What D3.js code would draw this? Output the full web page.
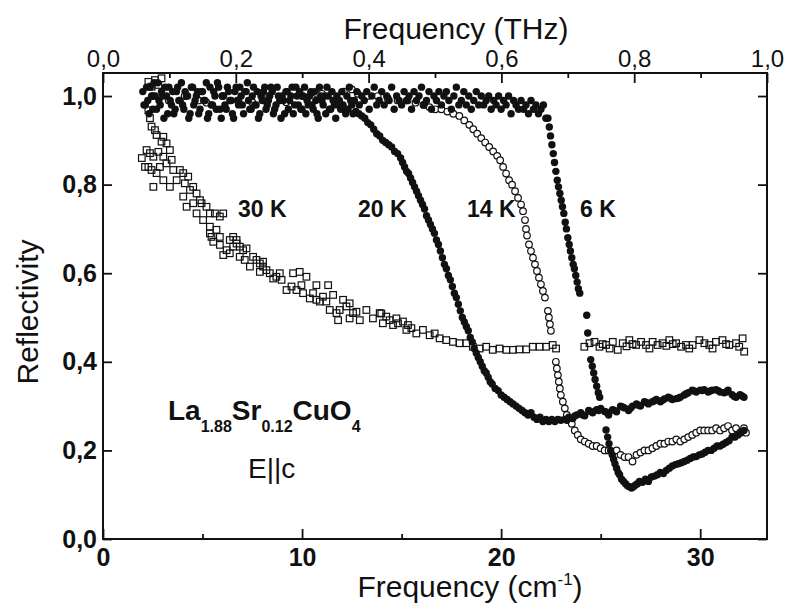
<!DOCTYPE html>
<html><head><meta charset="utf-8">
<script src="https://cdn.jsdelivr.net/npm/d3@7"></script>
<style>
body{margin:0;background:#fff}
svg{display:block}
text{font-family:"Liberation Sans",Arial,Helvetica,sans-serif;fill:#111}
</style>
</head><body><svg id="c" width="786" height="609"></svg>
<script>
// ---- axis ticks ----
const cmMajor = [0, 10, 20, 30];
const cmMinor = [5, 15, 25];
const thzMajor = [0, 0.2, 0.4, 0.6, 0.8, 1.0];
const thzMinor = [0.1, 0.3, 0.5, 0.7, 0.9];
const rMajor = [0, 0.2, 0.4, 0.6, 0.8, 1.0];
const cmPerTHz = 33.356;

// ---- curve labels ----
const tempLabels = ["30 K", "20 K", "14 K", "6 K"];

// ---- data: [frequency (cm^-1), reflectivity] ----
const sq30K = [
[1.95,0.86],[2.11,0.84],[2.19,0.878],[2.28,0.968],[2.28,0.84],[2.28,1.032],[2.36,0.95],[2.36,0.871],[2.44,0.931],[2.44,0.833],[2.44,1.021],[2.53,0.863],[2.53,0.795],[2.61,0.923],[2.61,1.036],[2.69,0.912],[2.69,0.826],[2.78,0.874],[2.78,1.025],[2.86,0.84],[2.94,0.897],[2.94,1.04],[3.03,0.908],[3.03,0.863],[3.03,0.81],[3.19,0.893],[3.19,0.848],[3.36,0.878],[3.36,0.795],[3.45,0.856],[3.53,0.833],[3.7,0.81],[3.86,0.833],[4.03,0.826],[4.03,0.773],[4.11,0.803],[4.2,0.75],[4.28,0.818],[4.37,0.788],[4.53,0.795],[4.53,0.758],[4.7,0.78],[4.7,0.735],[4.87,0.765],[4.95,0.758],[5.03,0.72],[5.2,0.75],[5.37,0.735],[5.37,0.705],[5.37,0.69],[5.45,0.682],[5.54,0.671],[5.62,0.735],[5.7,0.698],[5.87,0.728],[5.87,0.682],[5.87,0.664],[6.04,0.735],[6.04,0.641],[6.21,0.652],[6.37,0.675],[6.37,0.645],[6.54,0.66],[6.54,0.682],[6.71,0.675],[6.71,0.667],[6.87,0.66],[6.87,0.637],[7.04,0.652],[7.12,0.63],[7.21,0.656],[7.38,0.615],[7.54,0.637],[7.71,0.63],[7.88,0.622],[7.88,0.603],[8.04,0.615],[8.04,0.626],[8.21,0.607],[8.38,0.6],[8.55,0.588],[8.71,0.592],[8.88,0.6],[8.97,0.585],[9.22,0.562],[9.47,0.57],[9.55,0.6],[9.72,0.562],[9.88,0.603],[9.97,0.573],[10.05,0.555],[10.22,0.592],[10.39,0.543],[10.55,0.555],[10.72,0.573],[10.72,0.54],[10.89,0.536],[11.05,0.547],[11.22,0.536],[11.31,0.573],[11.39,0.517],[11.56,0.551],[11.73,0.51],[11.81,0.494],[11.89,0.517],[12.06,0.54],[12.23,0.525],[12.39,0.532],[12.39,0.498],[12.56,0.51],[12.73,0.513],[12.9,0.494],[13.23,0.517],[13.56,0.498],[13.9,0.51],[13.98,0.509],[14.06,0.487],[14.23,0.502],[14.4,0.494],[14.57,0.483],[14.74,0.498],[14.82,0.487],[15.07,0.491],[15.24,0.472],[15.32,0.483],[15.49,0.476],[15.74,0.464],[16.07,0.472],[16.41,0.46],[16.66,0.464],[16.91,0.453],[17.24,0.449],[17.58,0.445],[17.91,0.442],[18.25,0.442],[18.58,0.434],[18.92,0.43],[19.25,0.434],[19.58,0.427],[19.92,0.43],[20.26,0.427],[20.59,0.427],[20.92,0.428],[21.26,0.428],[21.59,0.434],[21.93,0.434],[22.26,0.434],[22.59,0.438],[22.76,0.43],
[24.18,0.434],[24.44,0.442],[24.69,0.445],[24.94,0.434],[25.1,0.44],[25.27,0.438],[25.45,0.43],[25.61,0.445],[25.86,0.427],[26.11,0.442],[26.3,0.435],[26.44,0.449],[26.6,0.44],[26.78,0.438],[27.03,0.445],[27.28,0.438],[27.45,0.43],[27.61,0.445],[27.86,0.438],[28.11,0.442],[28.3,0.436],[28.45,0.449],[28.62,0.44],[28.79,0.442],[29.04,0.434],[29.29,0.438],[29.45,0.43],[29.62,0.438],[29.96,0.449],[30.21,0.442],[30.46,0.438],[30.62,0.43],[30.79,0.445],[31.12,0.449],[31.3,0.44],[31.46,0.438],[31.8,0.442],[31.96,0.434],[32.13,0.453],[32.21,0.423]
];

const oc14K = [
[2.5,1.0],[3.3,0.99],[4.1,1.0],[4.8,0.99],[5.2,0.985],[6.0,1.0],[6.8,0.99],[7.5,0.986],[8.3,1.0],[9.2,0.986],[10.0,1.0],[10.7,1.007],[11.0,1.005],[11.6,1.0],[12.1,1.01],[12.5,1.015],[12.8,1.005],[13.3,1.0],[13.8,1.0],[14.3,0.995],[14.8,0.99],[15.3,0.99],[15.7,0.985],
[16.1,0.98],[16.4,0.975],[16.7,0.97],[17.0,0.97],[17.3,0.965],[17.6,0.96],[17.9,0.955],[18.15,0.945],[18.4,0.935],[18.6,0.925],[18.8,0.915],[19.0,0.905],[19.2,0.895],[19.4,0.885],[19.6,0.875],[19.8,0.865],[19.95,0.855],[20.1,0.84],[20.25,0.825],[20.4,0.81],[20.55,0.8],[20.7,0.785],[20.85,0.77],[21.0,0.755],[21.1,0.74],[21.2,0.72],[21.25,0.7],[21.3,0.685],[21.4,0.665],[21.5,0.65],[21.6,0.635],[21.7,0.62],[21.8,0.605],[21.9,0.59],[22.0,0.575],[22.1,0.56],[22.2,0.545],
[22.35,0.515],[22.4,0.5],[22.45,0.485],[22.5,0.47],
[22.75,0.4],[22.8,0.385],[22.85,0.37],[22.9,0.355],[22.95,0.34],[23.0,0.325],[23.1,0.31],[23.2,0.295],[23.3,0.28],[23.4,0.27],[23.55,0.26],[23.7,0.245],[23.85,0.235],[24.0,0.225],[24.2,0.22],[24.4,0.215],[24.6,0.21],[24.8,0.21],[25.0,0.205],[25.2,0.2],[25.4,0.2],[25.6,0.195],[25.8,0.2],[26.0,0.19],[26.2,0.185],[26.4,0.185],[26.6,0.175],[26.8,0.19],[27.0,0.195],[27.2,0.2],[27.4,0.2],[27.6,0.205],[27.8,0.21],[28.0,0.215],[28.2,0.215],[28.4,0.22],[28.6,0.22],[28.8,0.225],[29.0,0.22],[29.2,0.225],[29.4,0.23],[29.6,0.235],[29.8,0.24],[30.0,0.245],[30.2,0.245],[30.4,0.245],[30.6,0.245],[30.8,0.25],[31.0,0.245],[31.2,0.25],[31.4,0.255],[31.6,0.245],[31.8,0.25],[32.0,0.24],[32.2,0.25],[32.3,0.24]
];

const fc20K = [
[2.06,0.98],[2.19,1.02],[2.31,0.96],[2.44,1.0],[2.56,1.03],[2.69,0.97],[2.81,0.99],[2.94,1.01],
[3.06,0.95],[3.19,1.0],[3.31,1.02],[3.44,0.98],[3.56,0.96],[3.69,1.01],[3.81,0.99],[3.94,1.03],
[4.06,0.97],[4.19,1.0],[4.31,0.95],[4.44,1.02],[4.56,0.98],[4.69,1.0],[4.81,0.96],[4.94,1.01],
[5.06,0.99],[5.19,1.03],[5.31,0.96],[5.44,0.98],[5.56,1.01],[5.69,0.97],[5.81,1.02],[5.94,0.95],
[6.06,1.0],[6.19,0.97],[6.31,1.01],[6.44,0.99],[6.56,0.95],[6.69,1.02],[6.81,0.98],[6.94,1.0],
[7.06,0.96],[7.19,1.01],[7.31,0.99],[7.44,0.97],[7.56,1.02],[7.69,0.98],[7.81,0.95],[7.94,1.0],
[8.06,1.01],[8.19,0.97],[8.31,0.99],[8.44,1.02],[8.56,0.96],[8.69,0.98],[8.81,1.0],[8.94,0.95],
[9.06,0.99],[9.19,1.01],[9.31,0.97],[9.44,1.0],[9.56,0.96],[9.69,1.02],[9.81,0.98],[9.94,0.97],
[10.06,1.0],[10.19,0.96],[10.31,0.98],[10.44,1.01],[10.56,0.97],[10.69,0.99],[10.81,0.95],[10.94,1.0],
[11.06,0.98],[11.19,0.96],[11.31,1.0],[11.44,0.97],[11.56,0.99],[11.69,0.95],[11.81,0.98],[11.94,0.97],
[12.06,0.98],[12.19,0.96],[12.31,0.97],[12.44,0.99],[12.56,0.96],
[12.7,0.965],[12.85,0.96],[13.0,0.955],[13.15,0.95],[13.3,0.94],[13.45,0.935],[13.6,0.925],[13.75,0.915],[13.9,0.91],[14.05,0.9],[14.2,0.895],[14.35,0.89],[14.5,0.885],[14.65,0.875],[14.8,0.87],[14.95,0.86],[15.05,0.85],[15.15,0.84],[15.25,0.83],[15.35,0.825],[15.45,0.815],[15.55,0.805],[15.65,0.795],[15.75,0.785],[15.85,0.775],[15.95,0.765],[16.05,0.755],[16.15,0.745],[16.25,0.73],[16.35,0.72],[16.45,0.71],[16.55,0.7],[16.65,0.69],[16.75,0.675],[16.85,0.665],[16.95,0.65],[17.05,0.635],[17.15,0.62],[17.25,0.61],[17.35,0.595],[17.45,0.585],[17.55,0.57],[17.65,0.555],[17.75,0.545],[17.85,0.53],[17.95,0.515],[18.05,0.5],[18.15,0.49],[18.25,0.48],[18.35,0.47],[18.45,0.455],[18.55,0.445],[18.65,0.43],[18.75,0.42],[18.85,0.41],[18.95,0.4],[19.05,0.39],[19.15,0.38],[19.25,0.375],[19.35,0.365],[19.45,0.355],[19.55,0.35],[19.7,0.34],[19.85,0.335],[20.0,0.325],[20.15,0.32],[20.3,0.315],[20.45,0.31],[20.6,0.305],[20.75,0.3],[20.9,0.295],[21.05,0.29],[21.2,0.285],[21.35,0.28],[21.5,0.285],[21.65,0.275],[21.8,0.27],[21.95,0.275],[22.1,0.265],[22.25,0.27],[22.4,0.265],[22.55,0.27],[22.7,0.265],[22.85,0.27],[23.0,0.268],
[23.2,0.27],[23.3,0.268],[23.4,0.275],[23.6,0.272],[23.7,0.278],[23.8,0.28],[24.0,0.285],[24.1,0.28],[24.2,0.278],[24.4,0.29],[24.5,0.288],[24.6,0.285],[24.8,0.292],[24.9,0.29],[25.0,0.295],[25.2,0.288],[25.3,0.286],[25.4,0.28],[25.6,0.292],[25.7,0.29],[25.8,0.287],[26.0,0.3],[26.1,0.298],[26.2,0.296],[26.4,0.29],[26.5,0.295],[26.6,0.3],[26.8,0.305],[26.9,0.302],[27.0,0.3],[27.2,0.31],[27.3,0.308],[27.4,0.305],[27.6,0.31],[27.7,0.312],[27.8,0.315],[28.0,0.31],[28.1,0.313],[28.2,0.316],[28.4,0.32],[28.5,0.318],[28.6,0.315],[28.8,0.317],[28.9,0.318],[29.0,0.32],[29.2,0.325],[29.3,0.328],[29.4,0.33],[29.6,0.336],[29.7,0.334],[29.8,0.332],[30.0,0.336],[30.1,0.335],[30.2,0.337],[30.4,0.332],[30.5,0.334],[30.6,0.336],[30.8,0.337],[30.9,0.335],[31.0,0.332],[31.2,0.33],[31.3,0.332],[31.4,0.336],[31.6,0.326],[31.7,0.322],[31.8,0.32],[32.0,0.326],[32.1,0.323],[32.2,0.32]
];

const fc6K = [
[2.0,1.01],[2.125,0.98],[2.25,0.99],[2.375,1.02],[2.5,0.97],[2.625,1.0],[2.75,1.03],[2.875,0.98],
[3.0,1.0],[3.125,1.02],[3.25,0.96],[3.375,0.99],[3.5,1.01],[3.625,0.97],[3.75,1.02],[3.875,0.99],
[4.0,0.98],[4.125,1.01],[4.25,1.0],[4.375,0.96],[4.5,1.02],[4.625,0.99],[4.75,1.01],[4.875,0.97],
[5.0,1.01],[5.125,0.99],[5.25,0.95],[5.375,1.02],[5.5,0.98],[5.625,1.0],[5.75,1.03],[5.875,0.97],
[6.0,1.0],[6.125,0.98],[6.25,1.02],[6.375,0.99],[6.5,0.96],[6.625,1.01],[6.75,0.99],[6.875,1.02],
[7.0,0.98],[7.125,1.01],[7.25,1.03],[7.375,0.97],[7.5,1.0],[7.625,0.98],[7.75,1.01],[7.875,0.96],
[8.0,0.99],[8.125,1.02],[8.25,0.98],[8.375,1.0],[8.5,1.01],[8.625,0.97],[8.75,1.02],[8.875,0.99],
[9.0,1.0],[9.125,0.96],[9.25,1.01],[9.375,0.99],[9.5,1.02],[9.625,0.98],[9.75,1.0],[9.875,1.01],
[10.0,0.97],[10.125,1.02],[10.25,0.99],[10.375,1.0],[10.5,0.98],[10.625,1.01],[10.75,0.96],[10.875,1.02],
[11.0,0.99],[11.125,1.0],[11.25,1.02],[11.375,0.97],[11.5,1.01],[11.625,0.98],[11.75,1.0],[11.875,0.99],
[12.0,1.01],[12.125,0.97],[12.25,1.0],[12.375,1.02],[12.5,0.98],[12.625,0.99],[12.75,1.01],[12.875,0.98],
[13.0,1.0],[13.125,0.99],[13.25,1.01],[13.375,0.97],[13.5,1.0],[13.625,1.02],[13.75,0.98],[13.875,0.99],
[14.0,1.01],[14.125,0.98],[14.25,1.0],[14.375,0.99],[14.5,1.02],[14.625,0.97],[14.75,1.0],[14.875,0.99],
[15.0,0.98],[15.125,1.01],[15.25,0.99],[15.375,1.0],[15.5,0.97],[15.625,1.01],[15.75,0.99],[15.875,1.0],
[16.0,1.02],[16.125,0.98],[16.25,0.99],[16.375,1.01],[16.5,0.97],[16.625,1.0],[16.75,0.99],[16.875,1.01],
[17.0,0.98],[17.125,1.0],[17.25,1.01],[17.375,0.99],[17.5,0.97],[17.625,1.0],[17.75,1.02],[17.875,0.98],
[18.0,0.99],[18.125,1.01],[18.25,0.98],[18.375,1.0],[18.5,0.97],[18.625,0.99],[18.75,1.01],[18.875,0.98],
[19.0,1.0],[19.125,0.98],[19.25,0.99],[19.375,1.0],[19.5,0.97],[19.625,0.99],[19.75,0.98],[19.875,1.0],
[20.0,0.97],[20.125,0.99],[20.25,0.98],[20.375,1.0],[20.5,0.96],[20.625,0.99],[20.75,0.98],[20.875,0.97],
[21.0,0.99],[21.125,0.97],[21.25,0.98],[21.375,0.96],[21.5,0.99],[21.625,0.97],[21.75,0.98],[21.875,0.96],
[22.0,0.97],[22.125,0.98],[22.25,0.95],
[22.35,0.95],[22.42,0.93],[22.48,0.91],[22.55,0.89],[22.62,0.87],[22.68,0.85],[22.75,0.83],[22.82,0.81],[22.88,0.795],[22.95,0.78],[23.02,0.765],[23.08,0.75],[23.15,0.735],[23.22,0.715],[23.28,0.7],[23.35,0.68],[23.42,0.665],[23.48,0.65],[23.55,0.635],[23.62,0.62],[23.68,0.61],[23.75,0.595],[23.82,0.58],[23.88,0.565],[23.95,0.555],
[24.3,0.505],[24.35,0.465],[24.5,0.405],[24.58,0.39],[24.65,0.375],[24.72,0.36],[24.8,0.345],[24.88,0.33],[24.95,0.32],
[25.27,0.246],[25.35,0.23],[25.42,0.215],[25.5,0.2],[25.58,0.19],[25.65,0.18],[25.72,0.17],[25.8,0.16],[25.88,0.15],[25.95,0.145],[26.05,0.135],[26.15,0.13],[26.25,0.125],[26.35,0.12],[26.45,0.118],[26.55,0.115],[26.65,0.118],[26.75,0.122],[26.85,0.125],[26.95,0.13],[27.1,0.128],[27.25,0.135],[27.4,0.13],[27.55,0.14],[27.7,0.142],[27.85,0.145],[28.0,0.15],[28.15,0.148],[28.3,0.155],[28.45,0.16],[28.6,0.165],[28.75,0.168],[28.9,0.17],[29.05,0.172],[29.2,0.175],[29.35,0.178],[29.5,0.182],[29.65,0.185],[29.8,0.186],[29.95,0.19],[30.1,0.192],[30.25,0.196],[30.4,0.2],[30.55,0.2],[30.7,0.205],[30.85,0.21],[31.0,0.21],[31.15,0.214],[31.3,0.218],[31.45,0.222],[31.6,0.23],[31.75,0.23],[31.9,0.235],[32.05,0.24],[32.2,0.245]
];

// ---- drawing ----
const svg = d3.select("#c");
const L = 103, R = 767, T = 73, B = 539;
const x = d3.scaleLinear().domain([0, cmPerTHz]).range([L, R]);
const xt = d3.scaleLinear().domain([0, 1]).range([L, R]);
const y = d3.scaleLinear().domain([0, 1.052]).range([B, T]);
const comma = d => d3.format(".1f")(d).replace(".", ",");

function styleAxis(g, size, weight) {
  g.attr("font-size", null).attr("font-family", null);
  g.select(".domain").remove();
  g.selectAll(".tick line").attr("stroke", "#111").attr("stroke-width", 1.8);
  g.selectAll(".tick text").style("font-size", size + "px").style("font-weight", weight).attr("fill", "#111");
}

// bottom
styleAxis(svg.append("g").attr("transform", `translate(0,${B})`)
  .call(d3.axisBottom(x).tickValues(cmMajor).tickSize(-10).tickPadding(9).tickFormat(d3.format("d"))), 25, "bold");
styleAxis(svg.append("g").attr("transform", `translate(0,${B})`)
  .call(d3.axisBottom(x).tickValues(cmMinor).tickSize(-5).tickFormat("")), 25, "bold");
// top
styleAxis(svg.append("g").attr("transform", `translate(0,${T})`)
  .call(d3.axisTop(xt).tickValues(thzMajor).tickSize(-10).tickPadding(6).tickFormat(comma)), 24, "normal");
styleAxis(svg.append("g").attr("transform", `translate(0,${T})`)
  .call(d3.axisTop(xt).tickValues(thzMinor).tickSize(-5).tickFormat("")), 24, "normal");
// left
styleAxis(svg.append("g").attr("transform", `translate(${L},0)`)
  .call(d3.axisLeft(y).tickValues(rMajor).tickSize(-9).tickPadding(6).tickFormat(comma)), 25, "bold");
// right
styleAxis(svg.append("g").attr("transform", `translate(${R},0)`)
  .call(d3.axisRight(y).tickValues(rMajor).tickSize(-9).tickFormat("")), 25, "bold");

// frame
svg.append("rect").attr("x", L).attr("y", T).attr("width", R - L).attr("height", B - T)
  .attr("fill", "none").attr("stroke", "#111").attr("stroke-width", 2);

// data marks
const s = 6.6;
svg.append("g").selectAll("rect").data(sq30K).join("rect")
  .attr("x", d => x(d[0]) - s / 2).attr("y", d => y(d[1]) - s / 2)
  .attr("width", s).attr("height", s)
  .attr("fill", "none").attr("stroke", "#111").attr("stroke-width", 1.2);
svg.append("g").selectAll("circle").data(oc14K).join("circle")
  .attr("cx", d => x(d[0])).attr("cy", d => y(d[1])).attr("r", 3.3)
  .attr("fill", "#fff").attr("stroke", "#111").attr("stroke-width", 1.2);
svg.append("g").selectAll("circle").data(fc20K).join("circle")
  .attr("cx", d => x(d[0])).attr("cy", d => y(d[1])).attr("r", 3.7).attr("fill", "#111");
svg.append("g").selectAll("circle").data(fc6K).join("circle")
  .attr("cx", d => x(d[0])).attr("cy", d => y(d[1])).attr("r", 3.7).attr("fill", "#111");

// axis titles
svg.append("text").attr("x", 456).attr("y", 39).attr("text-anchor", "middle")
  .style("font-size", "30px").text("Frequency (THz)");
const bt = svg.append("text").attr("x", 470).attr("y", 597).attr("text-anchor", "middle").style("font-size", "30px");
bt.append("tspan").text("Frequency (cm");
bt.append("tspan").attr("dy", -12).style("font-size", "17px").text("-1");
bt.append("tspan").attr("dy", 12).text(")");
svg.append("text").attr("transform", "translate(38,312) rotate(-90)").attr("text-anchor", "middle")
  .style("font-size", "30px").text("Reflectivity");

// curve labels
const labX = [238, 358, 467, 580];
tempLabels.forEach((t, i) => {
  svg.append("text").attr("x", labX[i]).attr("y", 217).style("font-size", "23px").style("font-weight", "bold").text(t);
});

// sample label
const f = svg.append("text").attr("x", 168).attr("y", 420).style("font-size", "28px").style("font-weight", "bold");
f.append("tspan").text("La");
f.append("tspan").attr("dy", 12).style("font-size", "16px").text("1.88");
f.append("tspan").attr("dy", -12).text("Sr");
f.append("tspan").attr("dy", 12).style("font-size", "16px").text("0.12");
f.append("tspan").attr("dy", -12).text("CuO");
f.append("tspan").attr("dy", 12).style("font-size", "16px").text("4");
svg.append("text").attr("x", 248).attr("y", 478).style("font-size", "28px").text("E||c");
</script>
</body></html>
